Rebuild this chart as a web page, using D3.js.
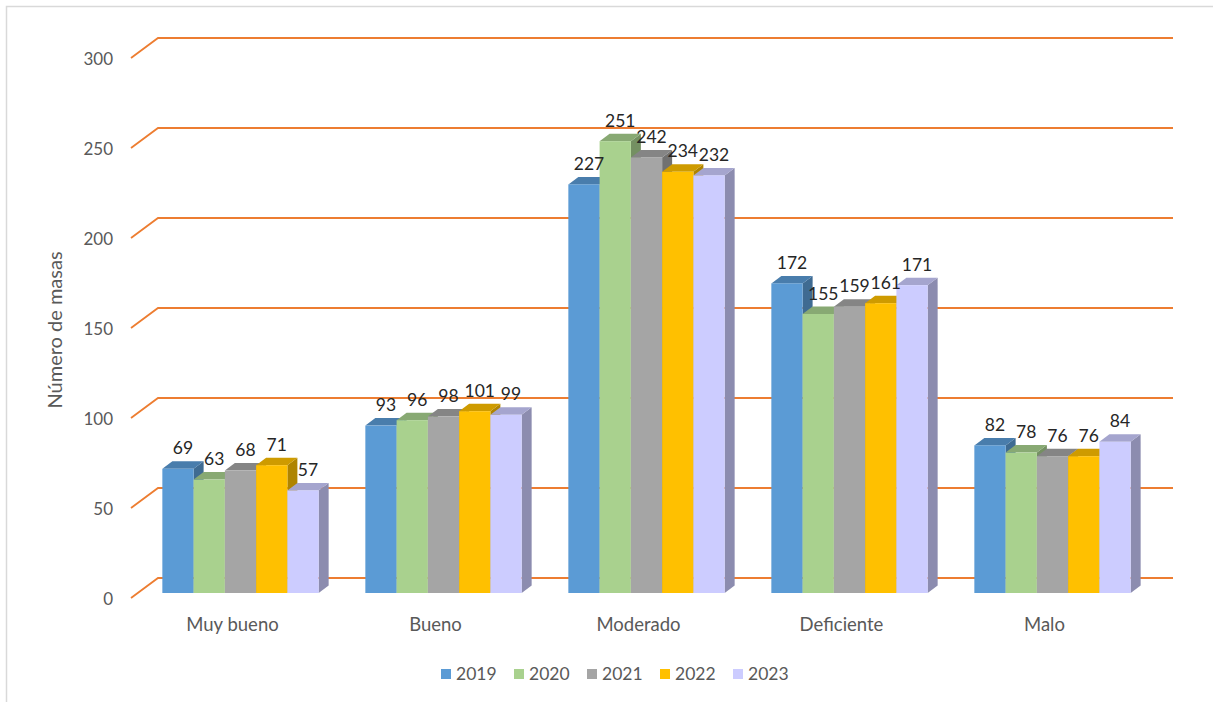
<!DOCTYPE html>
<html>
<head>
<meta charset="utf-8">
<script src="https://cdn.jsdelivr.net/npm/d3@7"></script>
<style>
    body { margin: 0; background: #fff; }
    text { font-family: Lato, "Open Sans", sans-serif; }
</style>
</head>
<body>
<div id="chart"></div>
<script>
// Data
const categories = ["Muy bueno", "Bueno", "Moderado", "Deficiente", "Malo"];
const years = ["2019", "2020", "2021", "2022", "2023"];
const values2019 = [69, 93, 227, 172, 82];
const values2020 = [63, 96, 251, 155, 78];
const values2021 = [68, 98, 242, 159, 76];
const values2022 = [71, 101, 234, 161, 76];
const values2023 = [57, 99, 232, 171, 84];
const yTicks = [0, 50, 100, 150, 200, 250, 300];
const colors = ["#5B9BD5", "#A9D18E", "#A5A5A5", "#FFC000", "#CCCCFF"];

const series = [values2019, values2020, values2021, values2022, values2023];

const width = 1213, height = 702;
// depth of the back wall and of the bars (3D look)
const wallDx = 27, wallDy = 20;
const barDx = 10, barDy = 7.5;
const barShiftX = 8, barShiftY = 5;

const svg = d3.select("#chart").append("svg")
    .attr("width", width)
    .attr("height", height);

// chart border
svg.append("rect")
    .attr("x", 6.5).attr("y", 6.5)
    .attr("width", 1230).attr("height", 720)
    .attr("fill", "none")
    .attr("stroke", "#D9D9D9")
    .attr("stroke-width", 1.5);

// front plane scales
const y = d3.scaleLinear().domain([0, 300]).range([598, 58]);
const x0 = d3.scaleBand().domain(categories).range([131, 1146])
    .paddingInner(0.23).paddingOuter(0.115);
const x1 = d3.scaleBand().domain(years).range([0, x0.bandwidth()]);

// gridlines: diagonal on the side wall + line on the back wall
const grid = svg.append("g").attr("class", "grid");
yTicks.forEach(t => {
    grid.append("path")
        .attr("d", `M131,${y(t)} L${131 + wallDx},${y(t) - wallDy} L1173,${y(t) - wallDy}`)
        .attr("fill", "none")
        .attr("stroke", "#ED7D31")
        .attr("stroke-width", 1.8);
});

// y axis labels
const yAxis = d3.axisLeft(y).tickValues(yTicks).tickSize(0).tickPadding(0);
const yg = svg.append("g")
    .attr("transform", "translate(113,1)")
    .call(yAxis);
yg.select(".domain").remove();
yg.selectAll("text")
    .attr("fill", "#595959")
    .style("font-size", "17px")
    .style("font-family", "Lato, sans-serif");

svg.append("text")
    .attr("transform", "translate(62,330) rotate(-90)")
    .attr("text-anchor", "middle")
    .attr("fill", "#595959")
    .style("font-size", "20px")
    .text("Número de masas");

// bars
const bars = svg.append("g").attr("class", "bars");
categories.forEach((cat, ci) => {
    years.forEach((yr, si) => {
        const v = series[si][ci];
        const bx = x0(cat) + x1(yr) + barShiftX;
        const bw = x1.bandwidth();
        const yb = y(0) - barShiftY;
        const yt = y(v) - barShiftY;
        const c = d3.color(colors[si]);
        const g = bars.append("g");
        g.append("path")
            .attr("d", `M${bx + bw},${yt} L${bx + bw + barDx},${yt - barDy} L${bx + bw + barDx},${yb - barDy} L${bx + bw},${yb}Z`)
            .attr("fill", c.darker(1.05));
        g.append("path")
            .attr("d", `M${bx},${yt} L${bx + barDx},${yt - barDy} L${bx + bw + barDx},${yt - barDy} L${bx + bw},${yt}Z`)
            .attr("fill", c.darker(0.6));
        g.append("rect")
            .attr("x", bx).attr("y", yt)
            .attr("width", bw).attr("height", yb - yt)
            .attr("fill", c);
    });
});

// value labels
const labels = svg.append("g").attr("class", "labels");
categories.forEach((cat, ci) => {
    years.forEach((yr, si) => {
        const v = series[si][ci];
        labels.append("text")
            .attr("x", x0(cat) + x1(yr) + barShiftX + x1.bandwidth() / 2 + barDx / 2)
            .attr("y", y(v) - barShiftY - barDy - 7)
            .attr("text-anchor", "middle")
            .attr("fill", "#262626")
            .style("font-size", "17.5px")
            .text(v);
    });
});

// category labels
svg.append("g").selectAll("text")
    .data(categories)
    .join("text")
    .attr("x", d => x0(d) + x0.bandwidth() / 2)
    .attr("y", 631)
    .attr("text-anchor", "middle")
    .attr("fill", "#595959")
    .style("font-size", "18.5px")
    .text(d => d);

// legend
const legend = svg.append("g").attr("transform", "translate(441,669)");
years.forEach((yr, i) => {
    const item = legend.append("g").attr("transform", `translate(${i * 73},0)`);
    item.append("rect")
        .attr("width", 10).attr("height", 10)
        .attr("fill", colors[i]);
    item.append("text")
        .attr("x", 15).attr("y", 11)
        .attr("fill", "#595959")
        .style("font-size", "17.5px")
        .text(yr);
});
</script>
</body>
</html>
